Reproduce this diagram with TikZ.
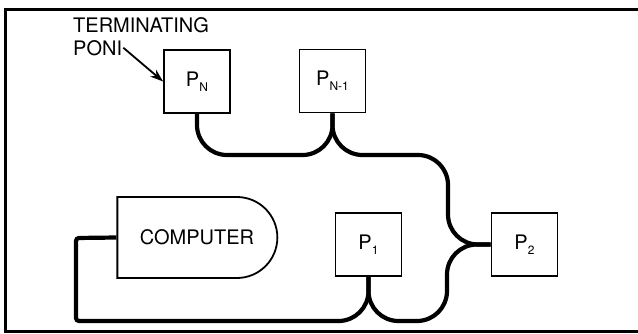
\documentclass[tikz,border=0pt]{standalone}
\usepackage{fontspec}
\setmainfont{TeX Gyre Heros}
\usepackage{tikz}
\usetikzlibrary{shapes.misc}
\usetikzlibrary{arrows.meta}
\usetikzlibrary{positioning}
\usepackage{xcolor}

\newcommand{\psub}[1]{P\raisebox{-5pt}{\fontsize{12pt}{12pt}\selectfont #1}}

\begin{document}
\begin{tikzpicture}[x=1pt,y=-1pt,
  lbl/.style={font=\fontsize{20pt}{24pt}\selectfont, inner sep=1pt},
  pbox/.style={draw, line width=1.8pt, minimum width=66pt, minimum height=63pt, inner sep=0pt, font=\fontsize{20pt}{24pt}\selectfont},
  cable/.style={line width=4.2pt, rounded corners=30pt}]
\useasboundingbox (0,0) rectangle (638,333);
\draw[line width=3pt] (5,9) rectangle (645,331);
\node[lbl, anchor=base west] (term) at (72,32) {TERMINATING};
\node[lbl, anchor=base west] (poni) at (72,55) {PONI};
\node[pbox] (pn) at (197,81.5) {\psub{N}};
\node[pbox] (pnm) at (332.5,81) {\psub{N-1}};
\node[pbox] (p1) at (368.5,244.5) {\psub{1}};
\node[pbox] (p2) at (524.5,244.5) {\psub{2}};
\node[draw, line width=1.8pt, rounded rectangle, rounded rectangle left arc=none,
  minimum width=160pt, minimum height=81pt, inner sep=0pt, font=\fontsize{20pt}{24pt}\selectfont]
  (comp) at (197,237.5) {COMPUTER\hspace{40pt}};
\draw[line width=1.8pt, -{Stealth[length=13pt,width=9pt]}] (poni.east) -- (pn.west);
% cables between the ponis
\draw[cable] (pn.south) |- (265,155) -| (pnm.south);
\draw[cable] (pnm.south) |- (448,155) |- (p2.west);
\draw[cable] (p2.west) -| (447,321) -| (p1.south);
\draw[cable] (p1.south) |- (250,321) [rounded corners=3pt] -| (76,238) -- (comp.west);
\end{tikzpicture}
\end{document}
